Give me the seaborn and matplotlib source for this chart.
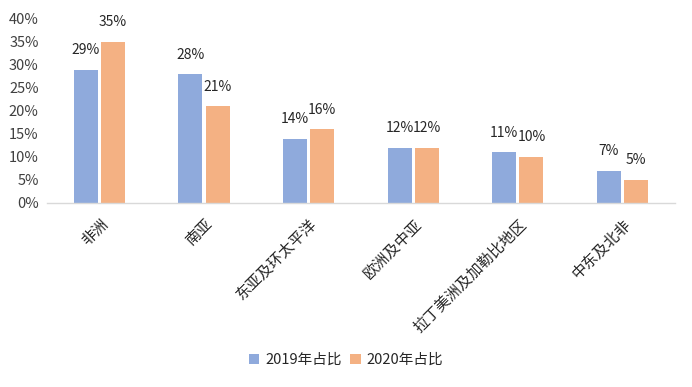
import matplotlib
matplotlib.use("Agg")
import matplotlib.pyplot as plt
import seaborn as sns
import pandas as pd

categories = ["非洲", "南亚", "东亚及环太平洋", "欧洲及中亚", "拉丁美洲及加勒比地区", "中东及北非"]
share_2019 = [29, 28, 14, 12, 11, 7]
share_2020 = [35, 21, 16, 12, 10, 5]
series_names = ["2019年占比", "2020年占比"]
yticks = [0, 5, 10, 15, 20, 25, 30, 35, 40]

sns.set_theme(style="white")
plt.rcParams['font.family'] = ['Noto Sans CJK SC', 'DejaVu Sans']

df = pd.DataFrame({
    "region": categories * 2,
    "value": share_2019 + share_2020,
    "series": [series_names[0]] * len(categories) + [series_names[1]] * len(categories),
})

fig = plt.figure(figsize=(6.92, 3.87), dpi=100)
ax = fig.add_axes([0.068, 0.4755, 0.907, 0.4755])

palette = {series_names[0]: "#8FAADC", series_names[1]: "#F4B183"}
sns.barplot(data=df, x="region", y="value", hue="series", palette=palette,
            width=0.52, gap=0.12, ax=ax, saturation=1, legend=True,
            linewidth=0, edgecolor="none")

for cont in ax.containers:
    labels = [f"{int(round(v))}%" for v in cont.datavalues]
    ax.bar_label(cont, labels=labels, padding=9, fontsize=10, color="#262626")

ax.set_ylim(0, 40)
ax.set_yticks(yticks)
ax.set_yticklabels([f"{t}%" for t in yticks], fontsize=10.5, color="#404040")
ax.set_xlabel("")
ax.set_ylabel("")
ax.tick_params(axis="y", length=0, pad=6)
ax.tick_params(axis="x", length=0, pad=9)
for lbl in ax.get_xticklabels():
    lbl.set_rotation(45)
    lbl.set_ha("right")
    lbl.set_rotation_mode("anchor")
    lbl.set_fontsize(11)
    lbl.set_color("#262626")
ax.set_xlim(-0.5, len(categories) - 0.5)
for s in ["top", "right", "left"]:
    ax.spines[s].set_visible(False)
ax.spines["bottom"].set_color("#D9D9D9")
ax.spines["bottom"].set_linewidth(1)

handles, labs = ax.get_legend_handles_labels()
ax.legend_.remove()
fig.legend(handles, labs, loc="center", bbox_to_anchor=(0.5, 0.07), ncol=2,
           frameon=False, fontsize=10.5, handlelength=0.7, handleheight=0.7,
           handletextpad=0.4, columnspacing=0.6)

fig.savefig("out.png", dpi=100)
